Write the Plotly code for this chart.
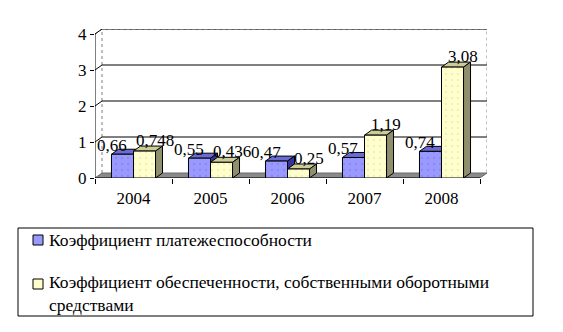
import plotly.graph_objects as go

# Data
years = ["2004", "2005", "2006", "2007", "2008"]
solvency = [0.66, 0.55, 0.47, 0.57, 0.74]
working_capital = [0.748, 0.436, 0.25, 1.19, 3.08]
label_solvency = ["0,66", "0,55", "0,47", "0,57", "0,74"]
label_capital = ["0,748", "0,436", "0,25", "1,19", "3,08"]
y_ticks = [0, 1, 2, 3, 4]

legend_solvency = "Коэффициент платежеспособности"
legend_capital = "Коэффициент обеспеченности, собственными оборотными<br>средствами"

# Geometry of the pseudo-3D look
W, H = 563, 332
ML, MR, MT, MB = 95, 76, 29, 154
PW, PH = W - ML - MR, H - MT - MB
n = len(years)
bar_w = 0.286               # width of one bar, in category units
px_x = (PW - 7) / n                    # pixels per category
DX = 7 / px_x                          # depth offset, x units
px_y = (PH - 5) / 4.0
DY = 5 / px_y                          # depth offset, y units

FONT = "Liberation Serif"

blue_front, blue_top, blue_side = "#9999ff", "#6b6bd6", "#333399"
yel_front, yel_top, yel_side = "#ffffcc", "#cccc99", "#8f8f6e"


def fx(px):
    """pixel column -> paper x"""
    return (px - ML) / PW


def fy(py):
    """pixel row -> paper y"""
    return (H - MB - py) / PH


x = list(range(n))
fig = go.Figure()

fig.add_trace(go.Bar(
    x=x, y=solvency, width=bar_w, offset=-bar_w, name=legend_solvency,
    marker=dict(color=blue_front, line=dict(color="black", width=1),
                pattern=dict(shape=".", size=6, solidity=0.12, fgcolor="#7777dd")),
    hoverinfo="skip", showlegend=False))
fig.add_trace(go.Bar(
    x=x, y=working_capital, width=bar_w, offset=0, name=legend_capital.replace("<br>", " "),
    marker=dict(color=yel_front, line=dict(color="black", width=1),
                pattern=dict(shape=".", size=6, solidity=0.12, fgcolor="#e0e0b0")),
    hoverinfo="skip", showlegend=False))

shapes = []


def poly(pts, fill, line_color="black", dash="solid", width=1):
    d = "M " + " L ".join(f"{px},{py}" for px, py in pts) + " Z"
    shapes.append(dict(type="path", path=d, xref="x", yref="y", layer="below",
                       fillcolor=fill, line=dict(color=line_color, width=width, dash=dash)))


def seg(pts, color="black", dash="solid", width=1):
    d = "M " + " L ".join(f"{px},{py}" for px, py in pts)
    shapes.append(dict(type="path", path=d, xref="x", yref="y", layer="below",
                       line=dict(color=color, width=width, dash=dash)))


x0, x1 = -0.5, n - 0.5

# back wall outline (dotted)
seg([(x0, 4), (x0 + DX, 4 + DY), (x1 + DX, 4 + DY), (x1 + DX, DY)], color="#808080", dash="dot")
seg([(x0 + DX, DY), (x0 + DX, 4 + DY)], color="#808080", dash="dot")

# gridlines on the back wall
for t in y_ticks[1:]:
    seg([(x0, t), (x0 + DX, t + DY), (x1 + DX, t + DY)])

# floor
poly([(x0, 0), (x1, 0), (x1 + DX, DY), (x0 + DX, DY)], "#8a8a8a", line_color="#6a6a6a")

# top and side faces of the bars
for i in range(n):
    for left, h, top_c, side_c in ((i - bar_w, solvency[i], blue_top, blue_side),
                                   (i, working_capital[i], yel_top, yel_side)):
        right = left + bar_w
        poly([(left, h), (right, h), (right + DX, h + DY), (left + DX, h + DY)], top_c)
        poly([(right, 0), (right, h), (right + DX, h + DY), (right + DX, DY)], side_c)

# axis lines
seg([(x0, 0), (x0, 4)])
seg([(x0, 0), (x1, 0)])

# legend frame and colour keys
shapes.append(dict(type="rect", xref="paper", yref="paper",
                   x0=fx(18), x1=fx(533), y0=fy(316), y1=fy(228),
                   line=dict(color="black", width=1), fillcolor="white", layer="above"))
for cy, col in ((240, blue_front), (284, yel_front)):
    shapes.append(dict(type="rect", xref="paper", yref="paper",
                       x0=fx(33), x1=fx(43), y0=fy(cy + 5), y1=fy(cy - 5),
                       line=dict(color="black", width=1), fillcolor=col, layer="above"))

fig.update_layout(shapes=shapes)

# value labels
ann = []
lab_font = dict(family=FONT, size=17, color="black")
for i in range(n):
    ann.append(dict(x=i - bar_w / 2, y=solvency[i], text=label_solvency[i], showarrow=False,
                    xshift=-10, yshift=9, font=lab_font))
    ann.append(dict(x=i + bar_w / 2, y=working_capital[i], text=label_capital[i], showarrow=False,
                    xshift=10, yshift=11, font=lab_font))

# legend texts
leg_font = dict(family=FONT, size=17.5, color="black")
ann.append(dict(xref="paper", yref="paper", x=fx(47), y=fy(240), text=legend_solvency,
                showarrow=False, xanchor="left", yanchor="middle", font=leg_font))
ann.append(dict(xref="paper", yref="paper", x=fx(47), y=fy(270), text=legend_capital,
                showarrow=False, xanchor="left", yanchor="top", align="left", font=leg_font))
fig.update_layout(annotations=ann)

fig.update_layout(
    width=W, height=H,
    margin=dict(l=ML, r=MR, t=MT, b=MB, pad=0, autoexpand=False),
    paper_bgcolor="white", plot_bgcolor="white",
    barmode="overlay",
    showlegend=False,
    font=dict(family=FONT, size=17, color="black"),
    xaxis=dict(range=[x0, x1 + DX], tickvals=x, ticktext=years, ticks="",
               showgrid=False, zeroline=False, showline=False,
               tickfont=dict(family=FONT, size=17, color="black"),
               ticklabelstandoff=8,
               minor=dict(tickvals=[k - 0.5 for k in range(n + 1)], ticks="outside",
                          ticklen=5, tickcolor="black", showgrid=False)),
    yaxis=dict(range=[0, 4 + DY], tickvals=y_ticks, ticks="outside", ticklen=4,
               tickcolor="black", showgrid=False, zeroline=False, showline=False,
               tickfont=dict(family=FONT, size=17, color="black")),
)

fig.write_html("out.html")
